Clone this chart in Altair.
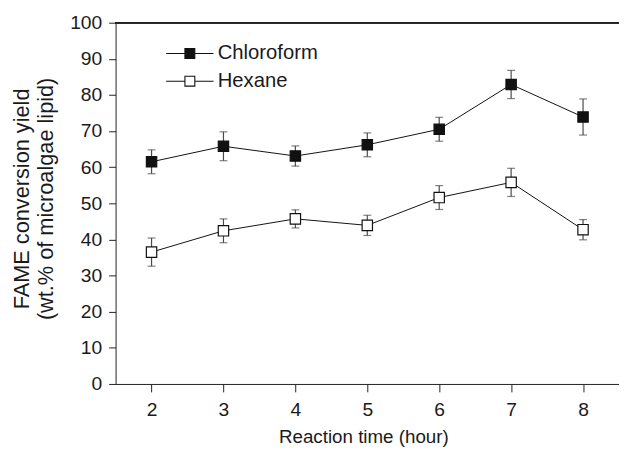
import altair as alt
import pandas as pd

hours = [2, 3, 4, 5, 6, 7, 8]
chloroform = [61.5, 65.8, 63.1, 66.2, 70.5, 82.9, 73.9]
chloroform_err = [3.3, 4.0, 2.8, 3.3, 3.3, 3.9, 5.0]
hexane = [36.5, 42.4, 45.7, 43.9, 51.6, 55.8, 42.7]
hexane_err = [3.9, 3.3, 2.5, 2.8, 3.3, 3.9, 2.8]
series_names = ["Chloroform", "Hexane"]
fills = ["#111111", "#ffffff"]

rows = []
for h, v, e in zip(hours, chloroform, chloroform_err):
    rows.append({"hour": h, "value": v, "err": e, "series": "Chloroform"})
for h, v, e in zip(hours, hexane, hexane_err):
    rows.append({"hour": h, "value": v, "err": e, "series": "Hexane"})
df = pd.DataFrame(rows)

FONT = "Liberation Sans"

xscale = alt.Scale(domain=[1.5, 8.5], nice=False, zero=False)
yscale = alt.Scale(domain=[0, 100], nice=False)

base = alt.Chart(df).transform_calculate(
    lo="datum.value - datum.err", hi="datum.value + datum.err"
)

xaxis = alt.Axis(
    values=hours, format="d", title="Reaction time (hour)", grid=False,
    tickSize=8, labelPadding=9, titlePadding=9, domainColor="#222",
    tickColor="#222", labelFontSize=19.5, titleFontSize=19,
    labelFont=FONT, titleFont=FONT, labelColor="#1a1a1a",
    titleColor="#1a1a1a", titleFontWeight="normal", titleX=251,
)
yaxis = alt.Axis(
    values=list(range(0, 101, 10)),
    title=["FAME conversion yield", "(wt.% of microalgae lipid)"],
    grid=False, tickSize=7, labelPadding=7, titlePadding=12,
    domainColor="#222", tickColor="#222", labelFontSize=19.5,
    titleFontSize=22, labelFont=FONT, titleFont=FONT,
    labelColor="#1a1a1a", titleColor="#1a1a1a", titleFontWeight="normal",
    titleLineHeight=25, titleY=178,
)


def X():
    return alt.X("hour:Q", scale=xscale, axis=xaxis)


def Y(field):
    return alt.Y(field, scale=yscale, axis=yaxis)


lines = base.mark_line(color="#111111", strokeWidth=1).encode(
    x=X(), y=Y("value:Q"), detail="series:N"
)
bars = base.mark_rule(color="#4a4a4a", strokeWidth=1.2).encode(
    x=X(), y=Y("lo:Q"), y2="hi:Q"
)
caps_lo = base.mark_tick(color="#4a4a4a", orient="horizontal", size=8, thickness=1.2).encode(
    x=X(), y=Y("lo:Q")
)
caps_hi = base.mark_tick(color="#4a4a4a", orient="horizontal", size=8, thickness=1.2).encode(
    x=X(), y=Y("hi:Q")
)
legend_path = "M-4.8,0H-1M1,0H4.8M-1,-1H1V1H-1Z"
points = base.mark_point(
    shape="square", size=110, filled=True, stroke="#111111", strokeWidth=1.2, opacity=1
).encode(
    x=X(),
    y=Y("value:Q"),
    fill=alt.Fill(
        "series:N",
        scale=alt.Scale(domain=series_names, range=fills),
        legend=alt.Legend(
            title=None, orient="none", legendX=65, legendY=21,
            symbolType=legend_path, symbolSize=100, symbolStrokeColor="#111111",
            symbolStrokeWidth=1.1, labelFontSize=20.5, labelFont=FONT,
            labelColor="#1a1a1a", rowPadding=7, labelOffset=18,
        ),
    ),
)
top_line = alt.Chart(df).mark_rule(color="#222", strokeWidth=1).encode(
    x=alt.value(0), x2=alt.value(510), y=alt.value(0)
)

chart = (
    alt.layer(lines, bars, caps_lo, caps_hi, points, top_line)
    .properties(
        width=510, height=366,
        autosize=alt.AutoSizeParams(type="none"),
        padding={"left": 109, "top": 12, "right": 0, "bottom": 64},
        background="white",
    )
    .configure_view(stroke=None)
)

chart.save("out.html", embed_options={"renderer": "svg", "actions": False})
